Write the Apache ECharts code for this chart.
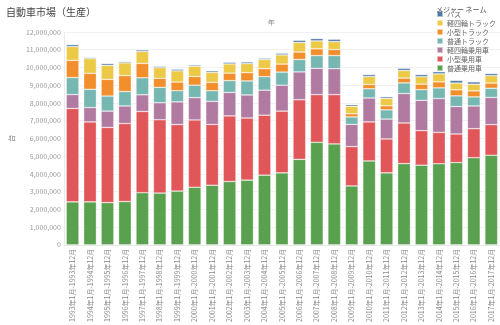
<!DOCTYPE html>
<html>
<head>
<meta charset="utf-8">
<script src="https://cdn.jsdelivr.net/npm/echarts@6/dist/echarts.min.js"></script>
<style>
  html, body { margin: 0; padding: 0; background: #fff; }
  #chart { width: 500px; height: 325px; }
</style>
</head>
<body>
<div id="chart"></div>
<script>
// 年ごとの生産台数（百万台）
const years = [1993,1994,1995,1996,1997,1998,1999,2000,2001,2002,2003,2004,2005,
               2006,2007,2008,2009,2010,2011,2012,2013,2014,2015,2016,2017];
const categories = years.map(y => y + '年1月-' + y + '年12月');

const passengerLarge = [2.42,2.42,2.38,2.44,2.94,2.92,3.03,3.25,3.36,3.57,3.65,3.93,4.06,
                        4.82,5.78,5.69,3.32,4.73,4.06,4.58,4.49,4.57,4.64,4.91,5.05];
const passengerSmall = [5.27,4.51,4.24,4.40,4.58,4.13,3.75,3.79,3.43,3.70,3.50,3.38,3.48,
                        3.36,2.69,2.78,2.22,2.20,1.91,2.29,1.95,1.77,1.61,1.64,1.73];
const passengerKei   = [0.78,0.81,0.92,0.99,0.94,0.96,1.28,1.26,1.30,1.32,1.30,1.41,1.46,
                        1.57,1.48,1.46,1.25,1.35,1.12,1.66,1.71,1.91,1.55,1.28,1.53];
const truckLarge     = [0.96,1.03,0.85,0.81,0.96,0.87,0.63,0.70,0.60,0.67,0.79,0.76,0.74,
                        0.70,0.72,0.74,0.42,0.52,0.52,0.60,0.60,0.60,0.60,0.51,0.52];
const truckSmall     = [0.97,0.90,0.94,0.90,0.81,0.51,0.49,0.49,0.47,0.42,0.47,0.45,0.45,
                        0.42,0.38,0.34,0.18,0.24,0.23,0.27,0.31,0.34,0.34,0.34,0.29];
const truckKei       = [0.78,0.83,0.79,0.72,0.67,0.60,0.63,0.58,0.56,0.52,0.51,0.52,0.52,
                        0.54,0.45,0.45,0.42,0.45,0.42,0.43,0.42,0.45,0.38,0.38,0.42];
const bus            = [0.11,0.06,0.10,0.07,0.09,0.07,0.09,0.07,0.09,0.09,0.09,0.07,0.09,
                        0.12,0.13,0.13,0.09,0.11,0.09,0.12,0.12,0.12,0.15,0.13,0.12];

const yTicks = { min: 0, max: 12000000, step: 1000000 };

// 積み上げ順（下から）
const stackSeries = [
  { name: '普通乗用車', values: passengerLarge, color: '#59a14f' },
  { name: '小型乗用車', values: passengerSmall, color: '#e15759' },
  { name: '軽四輪乗用車', values: passengerKei, color: '#b07aa1' },
  { name: '普通トラック', values: truckLarge, color: '#76b7b2' },
  { name: '小型トラック', values: truckSmall, color: '#f28e2b' },
  { name: '軽四輪トラック', values: truckKei, color: '#edc948' },
  { name: 'バス', values: bus, color: '#4e79a7' }
];

const chart = echarts.init(document.getElementById('chart'), null, { renderer: 'canvas' });
const font = 'Noto Sans CJK JP, sans-serif';

chart.setOption({
  animation: false,
  textStyle: { fontFamily: font },
  title: [
    { text: '自動車市場（生産）', left: 1, top: 2,
      textStyle: { fontSize: 10, fontWeight: 'normal', color: '#444', fontFamily: font } },
    { text: 'メジャー ネーム', left: 431, top: 1,
      textStyle: { fontSize: 7, fontWeight: 'normal', color: '#555', fontFamily: font } }
  ],
  graphic: [
    { type: 'text', left: 268, top: 20,
      style: { text: '年', fontSize: 7, fill: '#777', font: '7px ' + font } }
  ],
  legend: {
    orient: 'vertical',
    left: 436, top: 10,
    itemWidth: 6, itemHeight: 6, itemGap: 1,
    icon: 'rect',
    data: stackSeries.map(s => s.name).reverse(),
    textStyle: { fontSize: 7, color: '#666', lineHeight: 7, padding: [0, 0, 0, -1] },
    padding: 0
  },
  grid: { left: 43, right: 0, top: 32, bottom: 71 },
  xAxis: {
    type: 'category',
    data: categories,
    axisLine: { lineStyle: { color: '#e6e6e6' } },
    axisTick: { show: false },
    axisLabel: { rotate: 90, fontSize: 7, color: '#888', margin: 4, interval: 0 }
  },
  yAxis: {
    type: 'value',
    min: yTicks.min, max: yTicks.max, interval: yTicks.step,
    name: '台', nameLocation: 'middle', nameGap: 37, nameRotate: 90,
    nameTextStyle: { fontSize: 7, color: '#777' },
    axisLine: { show: true, lineStyle: { color: '#eaeaea' } },
    axisTick: { show: false },
    splitLine: { lineStyle: { color: '#f2f2f2' } },
    axisLabel: {
      fontSize: 7, color: '#999', margin: 3,
      formatter: v => v.toLocaleString('en-US')
    }
  },
  series: stackSeries.map(s => ({
    name: s.name,
    type: 'bar',
    stack: 'total',
    barCategoryGap: '27%',
    itemStyle: { color: s.color, borderColor: 'rgba(255,255,255,0.55)', borderWidth: 0.6 },
    data: s.values.map(v => Math.round(v * 1000000))
  }))
});
</script>
</body>
</html>
